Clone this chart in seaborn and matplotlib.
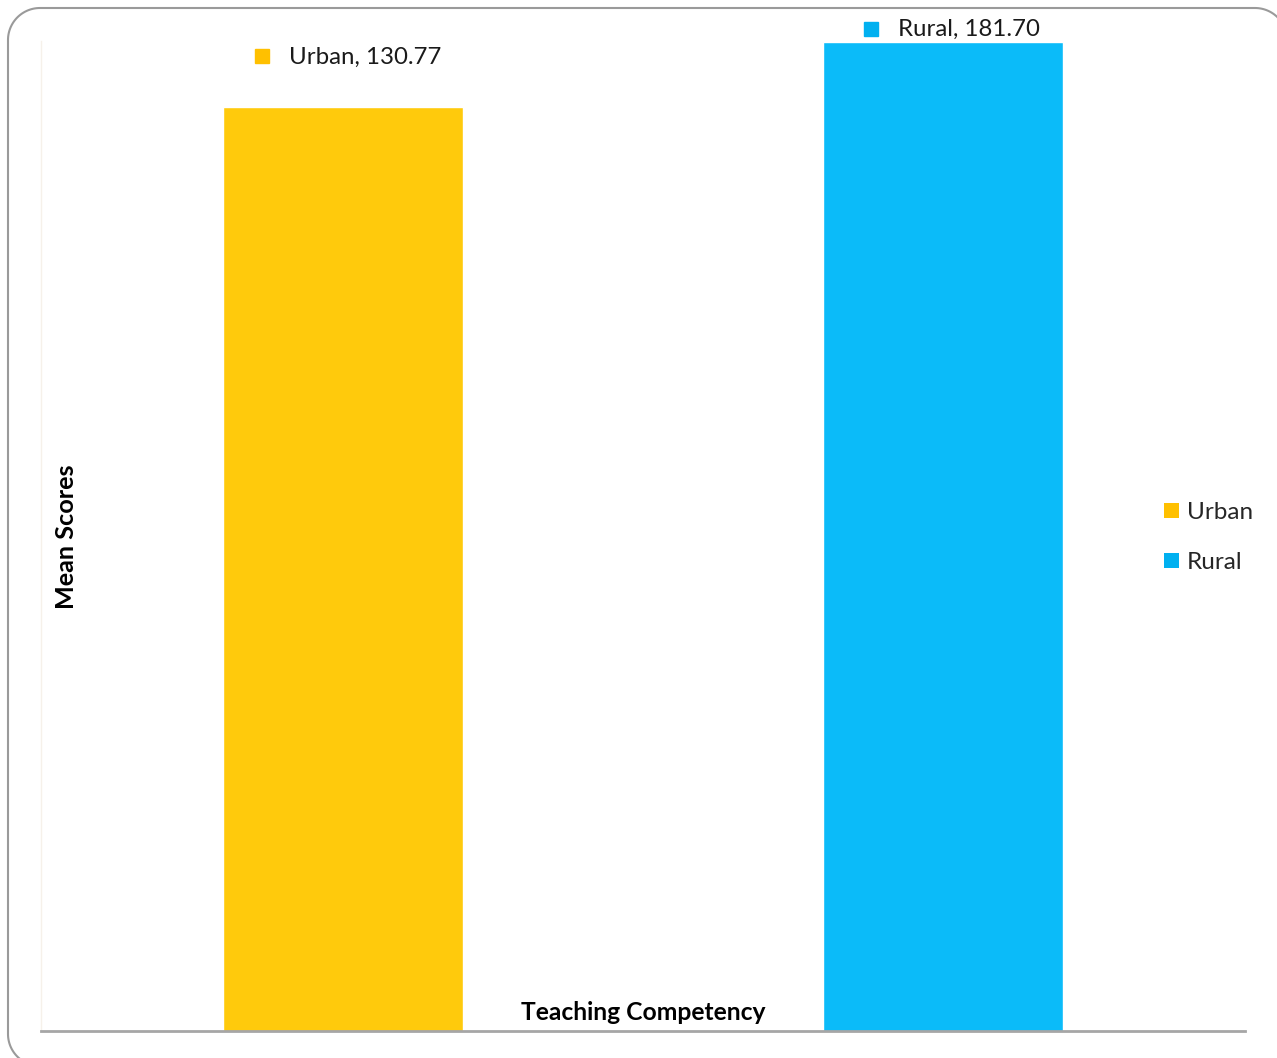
import matplotlib
matplotlib.use("Agg")
import matplotlib.pyplot as plt
import matplotlib.transforms as mtransforms
from matplotlib.lines import Line2D
from matplotlib.patches import Patch
import numpy as np
import pandas as pd
import seaborn as sns

# Data
categories = ["Teaching Competency"]
groups = ["Urban", "Rural"]
mean_scores = [130.77, 181.70]
bar_colors = ["#FFCA0C", "#0BBBF9"]
key_colors = ["#FFC000", "#00B0F0"]

df = pd.DataFrame({
    "category": categories * len(groups),
    "group": groups,
    "score": mean_scores,
})

sns.set_theme(style="white")
plt.rcParams["font.family"] = ["Lato", "DejaVu Sans"]

W, H, DPI = 1277, 1058, 100
fig = plt.figure(figsize=(W / DPI, H / DPI), dpi=DPI)
ax = fig.add_axes([41 / W, (H - 1031) / H, (1245 - 41) / W, (1031 - 41) / H])

sns.barplot(data=df, x="category", y="score", hue="group",
            hue_order=groups, palette=dict(zip(groups, bar_colors)),
            width=1.0, gap=0.6, ax=ax, legend=False, saturation=1)

ax.set_yscale("log")
ax.set_ylim(1.2178, 182.62)
ax.set_xlim(-0.5017, 0.5017)
ax.set_xticks([])
ax.set_yticks([])
ax.minorticks_off()
ax.set_xlabel("")
ax.set_ylabel("")

for side in ["top", "right"]:
    ax.spines[side].set_visible(False)
ax.spines["bottom"].set_color("#A6A6A6")
ax.spines["bottom"].set_linewidth(2.0)
ax.spines["left"].set_color("#F6F1EA")
ax.spines["left"].set_linewidth(1.0)

# Data labels with colour keys above each bar
offsets = {"Urban": ((-81, 51), (-54, 50)), "Rural": ((-72, 13), (-45, 13))}
for patch, grp, val, kc in zip(ax.patches, groups, mean_scores, key_colors):
    xc = patch.get_x() + patch.get_width() / 2
    (mdx, mdy), (tdx, tdy) = offsets[grp]
    mtr = mtransforms.offset_copy(ax.transData, fig=fig, x=mdx, y=mdy, units="dots")
    ax.plot([xc], [val], marker="s", markersize=10, color=kc, transform=mtr,
            clip_on=False, linestyle="none")
    ttr = mtransforms.offset_copy(ax.transData, fig=fig, x=tdx, y=tdy, units="dots")
    ax.text(xc, val, f"{grp}, {val:.2f}", transform=ttr, ha="left", va="center",
            fontsize=17.3, color="#1a1a1a", clip_on=False)

# Category name and axis title inside the plot area
ax.text(0, (1031 - 1013) / 990, categories[0],
        transform=mtransforms.blended_transform_factory(ax.transData, ax.transAxes),
        ha="center", va="center", fontsize=17.7, fontweight="bold", color="black")
ax.text((66 - 41) / 1204, (1031 - 537) / 990, "Mean Scores", transform=ax.transAxes,
        rotation=90, ha="center", va="center", fontsize=18.2, fontweight="bold",
        color="black")

# Legend on the right
handles = [Patch(facecolor=c, edgecolor="none", label=g) for g, c in zip(groups, key_colors)]
fig.legend(handles=handles, loc="center left", bbox_to_anchor=(1164 / W, (H - 537.5) / H),
           frameon=False, fontsize=17.5, handlelength=0.6, handleheight=0.6,
           handletextpad=0.33, labelspacing=1.2, borderpad=0, borderaxespad=0)

# Rounded outer frame (outline in pixel coordinates, origin bottom-left)
x0, x1, y0, y1, r = 8.0, 1287.0, -8.0, 1050.0, 32.0


def arc(cx, cy, a0, a1, n=30):
    t = np.radians(np.linspace(a0, a1, n))
    return cx + r * np.cos(t), cy + r * np.sin(t)


parts = [arc(x0 + r, y0 + r, 270, 180), arc(x0 + r, y1 - r, 180, 90),
         arc(x1 - r, y1 - r, 90, 0)]
fx = np.concatenate([p[0] for p in parts])
fy = np.concatenate([p[1] for p in parts])
frame = Line2D(fx, fy, transform=mtransforms.IdentityTransform(),
               color="#9A9A9A", linewidth=1.5, solid_capstyle="round")
fig.lines.append(frame)

fig.savefig("out.png", dpi=DPI, facecolor="white")
